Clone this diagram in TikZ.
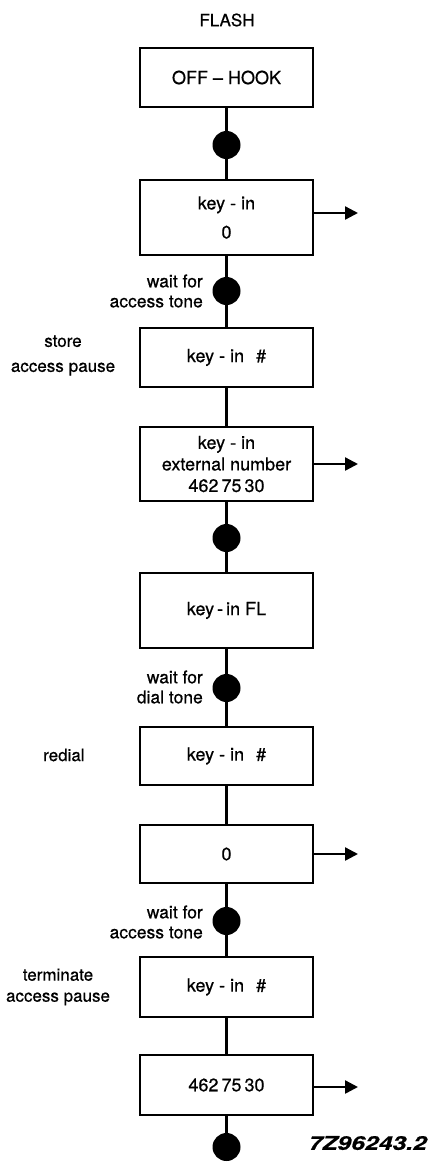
\documentclass[tikz,border=0pt]{standalone}
\usepackage{fontspec}
\setmainfont{TeX Gyre Heros}[FakeBold=0.6]
\usetikzlibrary{arrows.meta}
\begin{document}
\begin{tikzpicture}[x=1pt,y=-1pt,
  box/.style={draw, line width=2.8pt, minimum width=173pt, align=center, inner sep=0pt, font=\fontsize{18}{29}\selectfont},
  dot/.style={circle, fill=black, minimum size=28pt, inner sep=0pt},
  conn/.style={line width=2.2pt},
  outarrow/.style={line width=2.4pt, -{Triangle[length=13pt,width=13pt]}},
  lbl/.style={font=\fontsize{17}{21}\selectfont, inner sep=0pt}]
\path[fill=white] (0,0) rectangle (428,1168);
\useasboundingbox (0,0) rectangle (428,1168);

\node[lbl] (title) at (227,20) {FLASH};

\node[box, minimum height=59pt] (b1) at (226.5,77.5) {OFF -- HOOK};
\node[box, minimum height=75pt] (b2) at (226.5,217.5) {key - in\\0};
\node[box, minimum height=59pt] (b3) at (226.5,357.5) {key - in\hspace{12pt}\#};
\node[box, minimum height=74pt, font=\fontsize{18}{21.5}\selectfont] (b4) at (226.5,464) {key - in\\external number\\462\,75\,30};
\node[box, minimum height=75pt] (b5) at (226.5,610.5) {key\,-\,in FL};
\node[box, minimum height=58pt] (b6) at (226.5,756) {key - in\hspace{12pt}\#};
\node[box, minimum height=58pt] (b7) at (226.5,854) {0};
\node[box, minimum height=60pt] (b8) at (226.5,987) {key - in\hspace{12pt}\#};
\node[box, minimum height=60pt] (b9) at (226.5,1085) {462\,75\,30};

\node[dot] (d1) at (226.5,145) {};
\node[dot] (d2) at (226.5,291) {};
\node[dot] (d3) at (226.5,538) {};
\node[dot] (d4) at (226.5,688) {};
\node[dot] (d5) at (226.5,921) {};
\node[dot] (d6) at (226.5,1147) {};

\draw[conn] (b1) -- (d1) -- (b2) -- (d2) -- (b3) -- (b4) -- (d3) -- (b5) -- (d4) -- (b6) -- (b7) -- (d5) -- (b8) -- (b9) -- (d6);

\coordinate (a2) at (358,213);
\coordinate (a4) at (358,464);
\coordinate (a7) at (358,854);
\coordinate (a9) at (358,1087);
\draw[outarrow] (b2.east |- a2) -- (a2);
\draw[outarrow] (b4.east |- a4) -- (a4);
\draw[outarrow] (b7.east |- a7) -- (a7);
\draw[outarrow] (b9.east |- a9) -- (a9);

\node[lbl, anchor=east, align=right, font=\fontsize{17.5}{20}\selectfont] (l1) at (203,291) {wait for\\access tone};
\node[lbl, align=center, font=\fontsize{17}{25}\selectfont] (l2) at (63,355.5) {store\\access\hspace{5pt}pause};
\node[lbl, anchor=east, align=right, font=\fontsize{17.5}{20}\selectfont] (l3) at (203,687) {wait for\\dial tone};
\node[lbl, anchor=west] (l4) at (43,755) {redial};
\node[lbl, anchor=east, align=right, font=\fontsize{17.5}{20}\selectfont] (l5) at (203,922) {wait for\\access tone};
\node[lbl, align=center, font=\fontsize{17}{21}\selectfont] (l6) at (58,987) {terminate\\access pause};

\node[inner sep=0pt, anchor=east] (code) at (427,1143) {\scalebox{1.3}[1]{\fontsize{19}{19}\selectfont\bfseries\itshape 7Z96243.2}};
\end{tikzpicture}
\end{document}
